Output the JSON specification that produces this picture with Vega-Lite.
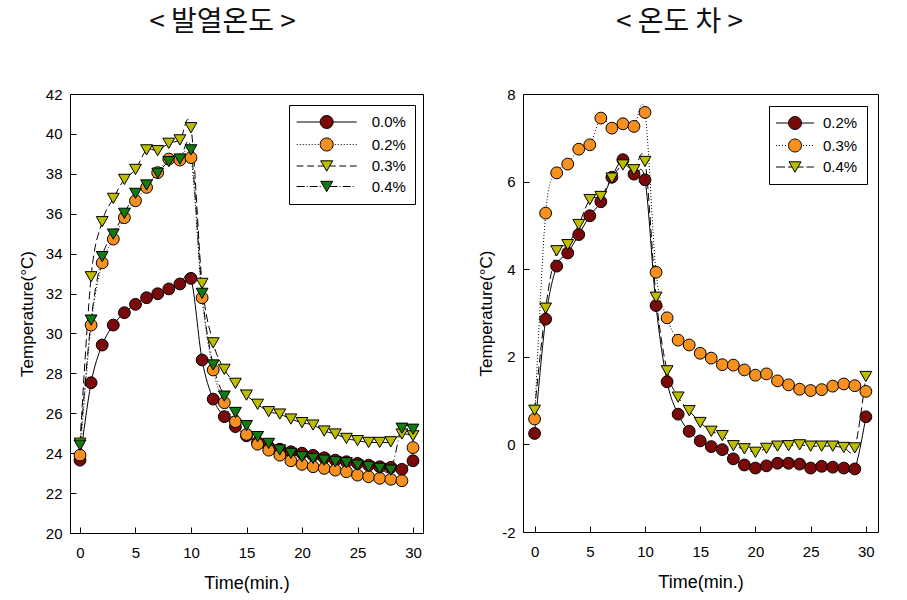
{
 "$schema": "https://vega.github.io/schema/vega-lite/v6.json",
 "background": "white",
 "padding": {"left": 17, "top": 8, "right": 5, "bottom": 5},
 "spacing": 53,
 "datasets": {
  "left": [
   {"t":0,"v":23.65,"s":"0.0%"},{"t":1,"v":27.53,"s":"0.0%"},{"t":2,"v":29.42,"s":"0.0%"},{"t":3,"v":30.42,"s":"0.0%"},{"t":4,"v":31.04,"s":"0.0%"},{"t":5,"v":31.46,"s":"0.0%"},{"t":6,"v":31.79,"s":"0.0%"},{"t":7,"v":31.99,"s":"0.0%"},{"t":8,"v":32.23,"s":"0.0%"},{"t":9,"v":32.48,"s":"0.0%"},{"t":10,"v":32.76,"s":"0.0%"},{"t":11,"v":28.67,"s":"0.0%"},{"t":12,"v":26.71,"s":"0.0%"},{"t":13,"v":25.83,"s":"0.0%"},{"t":14,"v":25.33,"s":"0.0%"},{"t":15,"v":24.87,"s":"0.0%"},{"t":16,"v":24.55,"s":"0.0%"},{"t":17,"v":24.32,"s":"0.0%"},{"t":18,"v":24.2,"s":"0.0%"},{"t":19,"v":24.07,"s":"0.0%"},{"t":20,"v":24.0,"s":"0.0%"},{"t":21,"v":23.89,"s":"0.0%"},{"t":22,"v":23.77,"s":"0.0%"},{"t":23,"v":23.65,"s":"0.0%"},{"t":24,"v":23.57,"s":"0.0%"},{"t":25,"v":23.49,"s":"0.0%"},{"t":26,"v":23.4,"s":"0.0%"},{"t":27,"v":23.32,"s":"0.0%"},{"t":28,"v":23.29,"s":"0.0%"},{"t":29,"v":23.19,"s":"0.0%"},{"t":30,"v":23.62,"s":"0.0%"},
   {"t":0,"v":23.9,"s":"0.2%"},{"t":1,"v":30.42,"s":"0.2%"},{"t":2,"v":33.54,"s":"0.2%"},{"t":3,"v":34.73,"s":"0.2%"},{"t":4,"v":35.8,"s":"0.2%"},{"t":5,"v":36.65,"s":"0.2%"},{"t":6,"v":37.32,"s":"0.2%"},{"t":7,"v":38.06,"s":"0.2%"},{"t":8,"v":38.74,"s":"0.2%"},{"t":9,"v":38.69,"s":"0.2%"},{"t":10,"v":38.81,"s":"0.2%"},{"t":11,"v":31.79,"s":"0.2%"},{"t":12,"v":28.17,"s":"0.2%"},{"t":13,"v":26.53,"s":"0.2%"},{"t":14,"v":25.58,"s":"0.2%"},{"t":15,"v":24.94,"s":"0.2%"},{"t":16,"v":24.45,"s":"0.2%"},{"t":17,"v":24.15,"s":"0.2%"},{"t":18,"v":23.9,"s":"0.2%"},{"t":19,"v":23.62,"s":"0.2%"},{"t":20,"v":23.44,"s":"0.2%"},{"t":21,"v":23.32,"s":"0.2%"},{"t":22,"v":23.24,"s":"0.2%"},{"t":23,"v":23.15,"s":"0.2%"},{"t":24,"v":23.07,"s":"0.2%"},{"t":25,"v":22.9,"s":"0.2%"},{"t":26,"v":22.82,"s":"0.2%"},{"t":27,"v":22.74,"s":"0.2%"},{"t":28,"v":22.69,"s":"0.2%"},{"t":29,"v":22.62,"s":"0.2%"},{"t":30,"v":24.28,"s":"0.2%"},
   {"t":0,"v":24.5,"s":"0.3%"},{"t":1,"v":32.84,"s":"0.3%"},{"t":2,"v":35.6,"s":"0.3%"},{"t":3,"v":36.77,"s":"0.3%"},{"t":4,"v":37.72,"s":"0.3%"},{"t":5,"v":38.22,"s":"0.3%"},{"t":6,"v":39.2,"s":"0.3%"},{"t":7,"v":39.16,"s":"0.3%"},{"t":8,"v":39.53,"s":"0.3%"},{"t":9,"v":39.7,"s":"0.3%"},{"t":10,"v":40.31,"s":"0.3%"},{"t":11,"v":32.51,"s":"0.3%"},{"t":12,"v":29.53,"s":"0.3%"},{"t":13,"v":28.2,"s":"0.3%"},{"t":14,"v":27.5,"s":"0.3%"},{"t":15,"v":26.91,"s":"0.3%"},{"t":16,"v":26.45,"s":"0.3%"},{"t":17,"v":26.08,"s":"0.3%"},{"t":18,"v":25.96,"s":"0.3%"},{"t":19,"v":25.71,"s":"0.3%"},{"t":20,"v":25.53,"s":"0.3%"},{"t":21,"v":25.41,"s":"0.3%"},{"t":22,"v":25.11,"s":"0.3%"},{"t":23,"v":24.96,"s":"0.3%"},{"t":24,"v":24.74,"s":"0.3%"},{"t":25,"v":24.63,"s":"0.3%"},{"t":26,"v":24.54,"s":"0.3%"},{"t":27,"v":24.54,"s":"0.3%"},{"t":28,"v":24.57,"s":"0.3%"},{"t":29,"v":24.96,"s":"0.3%"},{"t":30,"v":24.87,"s":"0.3%"},
   {"t":0,"v":24.4,"s":"0.4%"},{"t":1,"v":30.67,"s":"0.4%"},{"t":2,"v":33.85,"s":"0.4%"},{"t":3,"v":34.98,"s":"0.4%"},{"t":4,"v":36.02,"s":"0.4%"},{"t":5,"v":37.02,"s":"0.4%"},{"t":6,"v":37.44,"s":"0.4%"},{"t":7,"v":38.03,"s":"0.4%"},{"t":8,"v":38.61,"s":"0.4%"},{"t":9,"v":38.74,"s":"0.4%"},{"t":10,"v":39.2,"s":"0.4%"},{"t":11,"v":32.01,"s":"0.4%"},{"t":12,"v":28.42,"s":"0.4%"},{"t":13,"v":26.86,"s":"0.4%"},{"t":14,"v":26.04,"s":"0.4%"},{"t":15,"v":25.38,"s":"0.4%"},{"t":16,"v":24.83,"s":"0.4%"},{"t":17,"v":24.49,"s":"0.4%"},{"t":18,"v":24.16,"s":"0.4%"},{"t":19,"v":23.99,"s":"0.4%"},{"t":20,"v":23.82,"s":"0.4%"},{"t":21,"v":23.74,"s":"0.4%"},{"t":22,"v":23.65,"s":"0.4%"},{"t":23,"v":23.57,"s":"0.4%"},{"t":24,"v":23.52,"s":"0.4%"},{"t":25,"v":23.4,"s":"0.4%"},{"t":26,"v":23.32,"s":"0.4%"},{"t":27,"v":23.24,"s":"0.4%"},{"t":28,"v":23.15,"s":"0.4%"},{"t":29,"v":25.25,"s":"0.4%"},{"t":30,"v":25.2,"s":"0.4%"}
  ],
  "right": [
   {"t":0,"v":0.25,"s":"0.2%"},{"t":1,"v":2.86,"s":"0.2%"},{"t":2,"v":4.07,"s":"0.2%"},{"t":3,"v":4.37,"s":"0.2%"},{"t":4,"v":4.79,"s":"0.2%"},{"t":5,"v":5.22,"s":"0.2%"},{"t":6,"v":5.54,"s":"0.2%"},{"t":7,"v":6.1,"s":"0.2%"},{"t":8,"v":6.5,"s":"0.2%"},{"t":9,"v":6.17,"s":"0.2%"},{"t":10,"v":6.04,"s":"0.2%"},{"t":11,"v":3.17,"s":"0.2%"},{"t":12,"v":1.43,"s":"0.2%"},{"t":13,"v":0.69,"s":"0.2%"},{"t":14,"v":0.3,"s":"0.2%"},{"t":15,"v":0.08,"s":"0.2%"},{"t":16,"v":-0.05,"s":"0.2%"},{"t":17,"v":-0.12,"s":"0.2%"},{"t":18,"v":-0.33,"s":"0.2%"},{"t":19,"v":-0.47,"s":"0.2%"},{"t":20,"v":-0.54,"s":"0.2%"},{"t":21,"v":-0.49,"s":"0.2%"},{"t":22,"v":-0.43,"s":"0.2%"},{"t":23,"v":-0.43,"s":"0.2%"},{"t":24,"v":-0.45,"s":"0.2%"},{"t":25,"v":-0.54,"s":"0.2%"},{"t":26,"v":-0.5,"s":"0.2%"},{"t":27,"v":-0.52,"s":"0.2%"},{"t":28,"v":-0.54,"s":"0.2%"},{"t":29,"v":-0.56,"s":"0.2%"},{"t":30,"v":0.63,"s":"0.2%"},
   {"t":0,"v":0.58,"s":"0.3%"},{"t":1,"v":5.28,"s":"0.3%"},{"t":2,"v":6.2,"s":"0.3%"},{"t":3,"v":6.4,"s":"0.3%"},{"t":4,"v":6.74,"s":"0.3%"},{"t":5,"v":6.84,"s":"0.3%"},{"t":6,"v":7.45,"s":"0.3%"},{"t":7,"v":7.22,"s":"0.3%"},{"t":8,"v":7.32,"s":"0.3%"},{"t":9,"v":7.26,"s":"0.3%"},{"t":10,"v":7.58,"s":"0.3%"},{"t":11,"v":3.93,"s":"0.3%"},{"t":12,"v":2.89,"s":"0.3%"},{"t":13,"v":2.38,"s":"0.3%"},{"t":14,"v":2.27,"s":"0.3%"},{"t":15,"v":2.08,"s":"0.3%"},{"t":16,"v":1.97,"s":"0.3%"},{"t":17,"v":1.82,"s":"0.3%"},{"t":18,"v":1.81,"s":"0.3%"},{"t":19,"v":1.7,"s":"0.3%"},{"t":20,"v":1.58,"s":"0.3%"},{"t":21,"v":1.61,"s":"0.3%"},{"t":22,"v":1.45,"s":"0.3%"},{"t":23,"v":1.36,"s":"0.3%"},{"t":24,"v":1.26,"s":"0.3%"},{"t":25,"v":1.23,"s":"0.3%"},{"t":26,"v":1.25,"s":"0.3%"},{"t":27,"v":1.33,"s":"0.3%"},{"t":28,"v":1.38,"s":"0.3%"},{"t":29,"v":1.34,"s":"0.3%"},{"t":30,"v":1.21,"s":"0.3%"},
   {"t":0,"v":0.78,"s":"0.4%"},{"t":1,"v":3.11,"s":"0.4%"},{"t":2,"v":4.42,"s":"0.4%"},{"t":3,"v":4.56,"s":"0.4%"},{"t":4,"v":5.02,"s":"0.4%"},{"t":5,"v":5.59,"s":"0.4%"},{"t":6,"v":5.66,"s":"0.4%"},{"t":7,"v":6.08,"s":"0.4%"},{"t":8,"v":6.38,"s":"0.4%"},{"t":9,"v":6.27,"s":"0.4%"},{"t":10,"v":6.46,"s":"0.4%"},{"t":11,"v":3.36,"s":"0.4%"},{"t":12,"v":1.68,"s":"0.4%"},{"t":13,"v":1.08,"s":"0.4%"},{"t":14,"v":0.77,"s":"0.4%"},{"t":15,"v":0.5,"s":"0.4%"},{"t":16,"v":0.3,"s":"0.4%"},{"t":17,"v":0.2,"s":"0.4%"},{"t":18,"v":-0.03,"s":"0.4%"},{"t":19,"v":-0.1,"s":"0.4%"},{"t":20,"v":-0.18,"s":"0.4%"},{"t":21,"v":-0.09,"s":"0.4%"},{"t":22,"v":-0.04,"s":"0.4%"},{"t":23,"v":-0.03,"s":"0.4%"},{"t":24,"v":-0.01,"s":"0.4%"},{"t":25,"v":-0.04,"s":"0.4%"},{"t":26,"v":-0.04,"s":"0.4%"},{"t":27,"v":-0.04,"s":"0.4%"},{"t":28,"v":-0.07,"s":"0.4%"},{"t":29,"v":-0.08,"s":"0.4%"},{"t":30,"v":1.55,"s":"0.4%"}
  ]
 },
 "hconcat": [
  {
   "width": 353, "height": 439,
   "title": {"text": "< 발열온도 >", "fontSize": 28, "font": "Noto Sans CJK KR", "fontWeight": "normal", "color": "#111111", "offset": 50, "dx": -24, "anchor": "middle"},
   "data": {"name": "left"},
   "encoding": {
    "x": {"field": "t", "type": "quantitative", "scale": {"domain": [-0.9, 30.9], "nice": false, "zero": false}, "axis": {"values": [0,5,10,15,20,25,30], "title": "Time(min.)"}},
    "y": {"field": "v", "type": "quantitative", "scale": {"domain": [20, 42], "nice": false, "zero": false}, "axis": {"values": [20,22,24,26,28,30,32,34,36,38,40,42], "title": "Temperature(°C)", "titlePadding": 9}}
   },
   "layer": [
    {"transform": [{"filter": {"field": "s", "equal": "0.0%"}}], "mark": {"type": "line", "interpolate": "cardinal", "color": "black", "strokeWidth": 1}, "encoding": {}},
    {"transform": [{"filter": {"field": "s", "equal": "0.2%"}}], "mark": {"type": "line", "interpolate": "cardinal", "color": "black", "strokeWidth": 1, "strokeDash": [1,2]}, "encoding": {}},
    {"transform": [{"filter": {"field": "s", "equal": "0.3%"}}], "mark": {"type": "line", "interpolate": "cardinal", "color": "black", "strokeWidth": 1, "strokeDash": [8,4]}, "encoding": {}},
    {"transform": [{"filter": {"field": "s", "equal": "0.4%"}}], "mark": {"type": "line", "interpolate": "cardinal", "color": "black", "strokeWidth": 1, "strokeDash": [8,3,1,3]}, "encoding": {}},
    {"transform": [{"filter": {"field": "s", "equal": "0.0%"}}], "mark": {"type": "point", "shape": "circle", "filled": true, "fill": "#7a0a0a", "stroke": "black", "strokeWidth": 1, "size": 140, "opacity": 1}, "encoding": {}},
    {"transform": [{"filter": {"field": "s", "equal": "0.2%"}}], "mark": {"type": "point", "shape": "circle", "filled": true, "fill": "#f7901e", "stroke": "black", "strokeWidth": 1, "size": 140, "opacity": 1}, "encoding": {}},
    {"transform": [{"filter": {"field": "s", "equal": "0.3%"}}], "mark": {"type": "point", "shape": "triangle-down", "filled": true, "fill": "#bdbd00", "stroke": "black", "strokeWidth": 1, "size": 140, "opacity": 1}, "encoding": {}},
    {"transform": [{"filter": {"field": "s", "equal": "0.4%"}}], "mark": {"type": "point", "shape": "triangle-down", "filled": true, "fill": "#117a11", "stroke": "black", "strokeWidth": 1, "size": 140, "opacity": 1}, "encoding": {}},
    {"transform": [{"filter": "false"}],
     "mark": {"type": "point", "filled": true, "stroke": "black", "strokeWidth": 1, "size": 140, "opacity": 1},
     "encoding": {
      "shape": {"field": "s", "type": "nominal", "scale": {"domain": ["0.0%","0.2%","0.3%","0.4%"], "range": [
        "M-4,0H-0.867M0.867,0H4M-0.867,0A0.867,0.867,0,1,0,0.867,0A0.867,0.867,0,1,0,-0.867,0Z",
        "M-4,0h0.13m0.27,0h0.13m0.27,0h0.13m0.27,0h0.13m0.27,0h0.13m0.27,0h0.13m0.27,0h0.13m0.27,0h0.13M1.07,0h0.13m0.27,0h0.13m0.27,0h0.13m0.27,0h0.13m0.27,0h0.13m0.27,0h0.13m0.27,0h0.13m0.27,0h0.13M-0.867,0A0.867,0.867,0,1,0,0.867,0A0.867,0.867,0,1,0,-0.867,0Z",
        "M-4,0h0.9m0.5,0h0.9m0.5,0h0.8M0.4,0h0.8m0.5,0h0.9m0.5,0h0.9M0,0.693L0.8,-0.693L-0.8,-0.693Z",
        "M-4,0h1.067m0.267,0h0.133m0.267,0h1.067m0.267,0h0.133M0.4,0h1.067m0.267,0h0.133m0.267,0h1.067m0.267,0h0.133M0,0.693L0.8,-0.693L-0.8,-0.693Z"]}},
      "color": {"field": "s", "type": "nominal", "scale": {"domain": ["0.0%","0.2%","0.3%","0.4%"], "range": ["#7a0a0a","#f7901e","#bdbd00","#117a11"]},
       "legend": {"title": null, "orient": "none", "legendX": 219, "legendY": 11, "direction": "vertical", "padding": 9, "rowPadding": 4.5, "strokeColor": "black", "fillColor": "white", "labelFont": "Liberation Sans", "labelFontSize": 15, "labelColor": "black", "symbolSize": 225, "symbolOffset": 20.7, "labelOffset": 37, "symbolStrokeColor": "black", "symbolStrokeWidth": 1, "symbolOpacity": 1}}
     }}
   ]
  },
  {
   "width": 355, "height": 438,
   "title": {"text": "< 온도 차 >", "fontSize": 28, "font": "Noto Sans CJK KR", "fontWeight": "normal", "color": "#111111", "offset": 50, "dx": -21, "anchor": "middle"},
   "data": {"name": "right"},
   "encoding": {
    "x": {"field": "t", "type": "quantitative", "scale": {"domain": [-1.05, 31.1], "nice": false, "zero": false}, "axis": {"values": [0,5,10,15,20,25,30], "title": "Time(min.)"}},
    "y": {"field": "v", "type": "quantitative", "scale": {"domain": [-2, 8], "nice": false, "zero": false}, "axis": {"values": [-2,0,2,4,6,8], "labelExpr": "datum.value < 0 ? '-' + abs(datum.value) : datum.label", "title": "Temperature(°C)", "titlePadding": 6}}
   },
   "layer": [
    {"transform": [{"filter": {"field": "s", "equal": "0.2%"}}], "mark": {"type": "line", "interpolate": "cardinal", "color": "black", "strokeWidth": 1}, "encoding": {}},
    {"transform": [{"filter": {"field": "s", "equal": "0.3%"}}], "mark": {"type": "line", "interpolate": "cardinal", "color": "black", "strokeWidth": 1, "strokeDash": [1,2]}, "encoding": {}},
    {"transform": [{"filter": {"field": "s", "equal": "0.4%"}}], "mark": {"type": "line", "interpolate": "cardinal", "color": "black", "strokeWidth": 1, "strokeDash": [8,4]}, "encoding": {}},
    {"transform": [{"filter": {"field": "s", "equal": "0.2%"}}], "mark": {"type": "point", "shape": "circle", "filled": true, "fill": "#7a0a0a", "stroke": "black", "strokeWidth": 1, "size": 140, "opacity": 1}, "encoding": {}},
    {"transform": [{"filter": {"field": "s", "equal": "0.3%"}}], "mark": {"type": "point", "shape": "circle", "filled": true, "fill": "#f7901e", "stroke": "black", "strokeWidth": 1, "size": 140, "opacity": 1}, "encoding": {}},
    {"transform": [{"filter": {"field": "s", "equal": "0.4%"}}], "mark": {"type": "point", "shape": "triangle-down", "filled": true, "fill": "#bdbd00", "stroke": "black", "strokeWidth": 1, "size": 140, "opacity": 1}, "encoding": {}},
    {"transform": [{"filter": "false"}],
     "mark": {"type": "point", "filled": true, "stroke": "black", "strokeWidth": 1, "size": 140, "opacity": 1},
     "encoding": {
      "shape": {"field": "s", "type": "nominal", "scale": {"domain": ["0.2%","0.3%","0.4%"], "range": [
        "M-2.533,0H-0.867M0.867,0H2.533M-0.867,0A0.867,0.867,0,1,0,0.867,0A0.867,0.867,0,1,0,-0.867,0Z",
        "M-2.533,0h0.13m0.27,0h0.13m0.27,0h0.13m0.27,0h0.13M1.07,0h0.13m0.27,0h0.13m0.27,0h0.13m0.27,0h0.13M-0.867,0A0.867,0.867,0,1,0,0.867,0A0.867,0.867,0,1,0,-0.867,0Z",
        "M-2.533,0h1.2m0.4,0h0.533M0.4,0h0.733m0.4,0h1.0M0,0.693L0.8,-0.693L-0.8,-0.693Z"]}},
      "color": {"field": "s", "type": "nominal", "scale": {"domain": ["0.2%","0.3%","0.4%"], "range": ["#7a0a0a","#f7901e","#bdbd00"]},
       "legend": {"title": null, "orient": "none", "legendX": 246, "legendY": 12, "direction": "vertical", "padding": 9, "rowPadding": 4.5, "strokeColor": "black", "fillColor": "white", "labelFont": "Liberation Sans", "labelFontSize": 15, "labelColor": "black", "symbolSize": 225, "symbolOffset": 9, "labelOffset": 20, "symbolStrokeColor": "black", "symbolStrokeWidth": 1, "symbolOpacity": 1}}
     }}
   ]
  }
 ],
 "resolve": {
  "scale": {"color": "independent", "shape": "independent", "x": "independent", "y": "independent"},
  "legend": {"color": "independent", "shape": "independent"}
 },
 "config": {
  "view": {"stroke": "black", "strokeWidth": 1},
  "axis": {"domain": false, "grid": false, "ticks": true, "tickColor": "black", "tickSize": -6, "tickWidth": 1,
   "labelFont": "Liberation Sans", "labelFontSize": 15, "labelColor": "black",
   "titleFont": "Liberation Sans", "titleFontSize": 17, "titleFontWeight": "normal", "titleColor": "black"},
  "axisY": {"labelPadding": 14},
  "axisX": {"labelPadding": 18, "titlePadding": 14, "titleFontSize": 18}
 }
}
